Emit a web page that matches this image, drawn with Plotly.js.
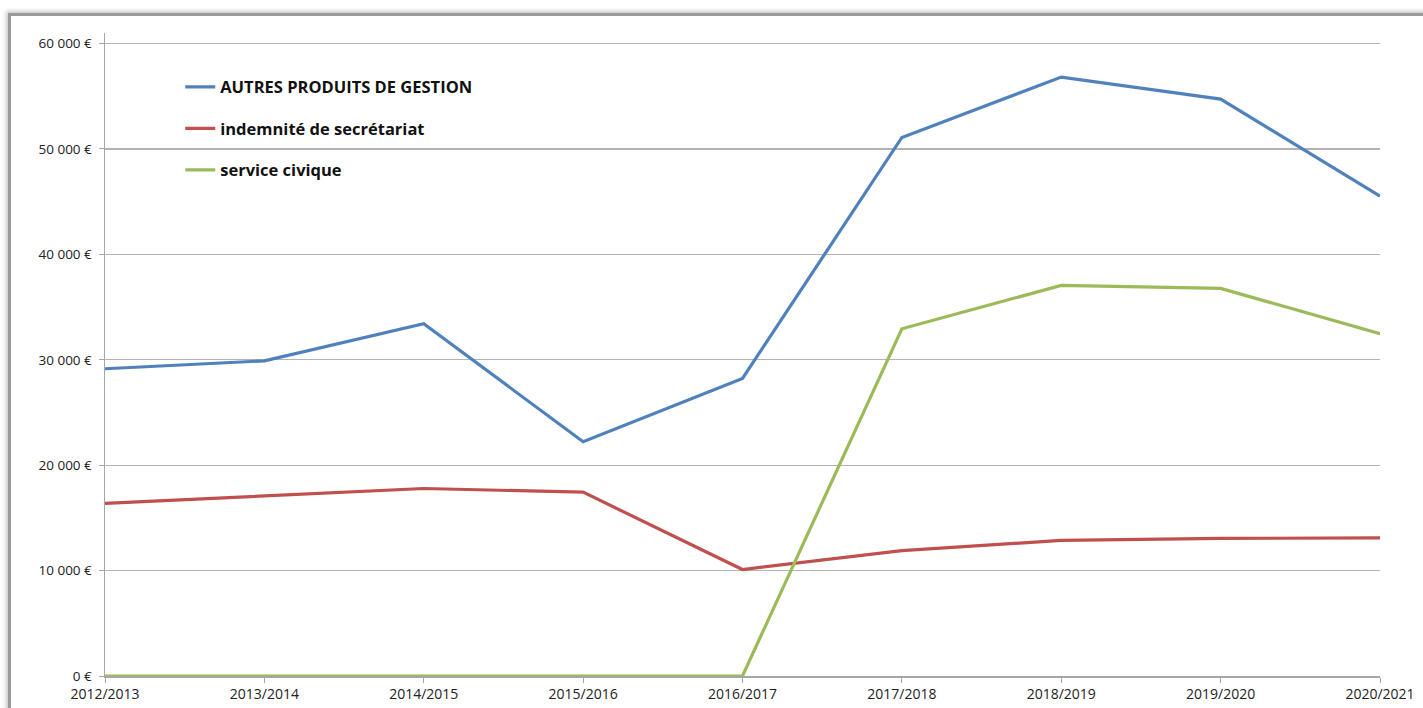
<!DOCTYPE html>
<html>
<head>
<meta charset="utf-8">
<script src="https://cdn.plot.ly/plotly-3.0.1.min.js"></script>
<style>
  html, body { margin: 0; padding: 0; background: #ffffff; width: 1423px; height: 708px; overflow: hidden; }
  #frame { position: absolute; left: 8px; top: 13px; width: 1500px; height: 800px;
           border-top: 3px solid #9a9a9a; border-left: 3px solid #9a9a9a;
           box-shadow: -2px -2px 4px #c8c8c8; }
  #chart { position: absolute; left: 0; top: 0; width: 1423px; height: 708px; }
</style>
</head>
<body>
<div id="frame"></div>
<div id="chart"></div>
<script>
const categories = ["2012/2013", "2013/2014", "2014/2015", "2015/2016", "2016/2017", "2017/2018", "2018/2019", "2019/2020", "2020/2021"];
const autresProduits = [29150, 29900, 33420, 22220, 28230, 51090, 56820, 54730, 45520];
const indemniteSecretariat = [16370, 17060, 17790, 17440, 10100, 11900, 12860, 13050, 13110];
const serviceCivique = [0, 0, 0, 0, 0, 32940, 37050, 36770, 32470];
const seriesNames = ["AUTRES PRODUITS DE GESTION", "indemnité de secrétariat", "service civique"];
const yTickVals = [0, 10000, 20000, 30000, 40000, 50000, 60000];
const yTickText = ["0 €", "10 000 €", "20 000 €", "30 000 €", "40 000 €", "50 000 €", "60 000 €"];

const colors = ["#4F81BD", "#C0504D", "#9BBB59"];
const seriesValues = [autresProduits, indemniteSecretariat, serviceCivique];

const traces = seriesValues.map((vals, i) => ({
  type: "scatter",
  mode: "lines",
  x: categories,
  y: vals,
  name: seriesNames[i],
  legendgroup: "g" + i,
  line: { color: colors[i], width: 3.2 },
  hoverinfo: "x+y+name"
}));

const layout = {
  width: 1423,
  height: 708,
  paper_bgcolor: "rgba(0,0,0,0)",
  plot_bgcolor: "rgba(0,0,0,0)",
  margin: { l: 105, r: 43, t: 33, b: 32, pad: 0 },
  font: { family: "Open Sans, Liberation Sans, sans-serif", size: 13, color: "#222" },
  showlegend: true,
  legend: {
    x: 0.059, y: 0.943, xanchor: "left", yanchor: "top",
    bgcolor: "rgba(0,0,0,0)",
    font: { family: "Open Sans, Liberation Sans, sans-serif", size: 16.5, color: "#111", weight: "bold" },
    traceorder: "grouped",
    tracegroupgap: 17,
    itemwidth: 30
  },
  xaxis: {
    type: "category",
    range: [0, categories.length - 1],
    showgrid: false,
    showline: true,
    linecolor: "#a6a6a6",
    linewidth: 1.5,
    ticks: "outside",
    ticklen: 5,
    tickcolor: "#a6a6a6",
    tickfont: { size: 14, color: "#222" },
    zeroline: false,
    fixedrange: true
  },
  yaxis: {
    range: [0, 61000],
    tickvals: yTickVals,
    ticktext: yTickText,
    showgrid: true,
    gridcolor: "#b3b3b3",
    gridwidth: 1.2,
    showline: true,
    linecolor: "#a6a6a6",
    linewidth: 1.5,
    ticks: "outside",
    ticklen: 5,
    tickcolor: "#a6a6a6",
    ticklabelstandoff: 4,
    tickfont: { size: 13.5, color: "#222" },
    zeroline: false,
    fixedrange: true
  }
};

Plotly.newPlot("chart", traces, layout, { displayModeBar: false, staticPlot: true });
</script>
</body>
</html>
